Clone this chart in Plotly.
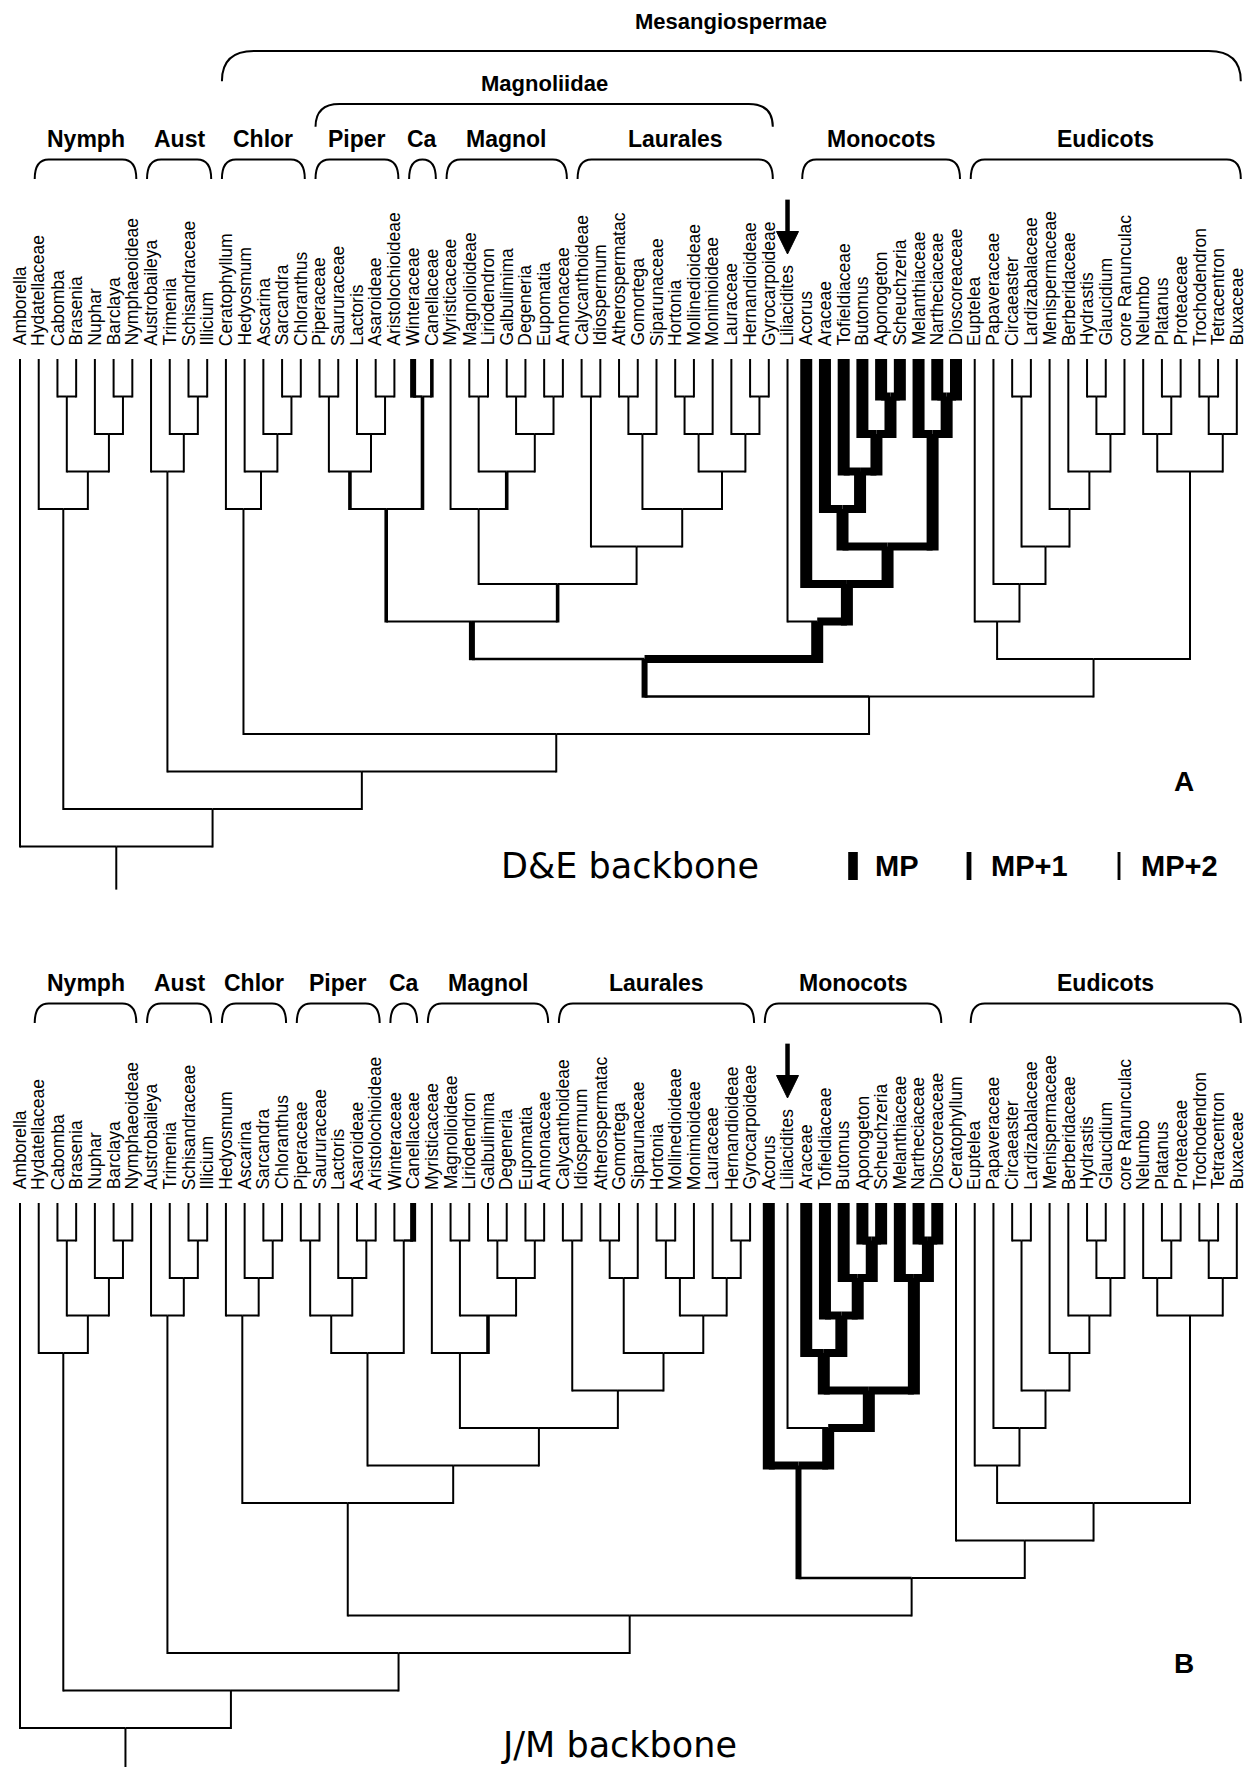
import plotly.graph_objects as go

# ---------------- data ----------------
LEAVES_A = ["Amborella", "Hydatellaceae", "Cabomba", "Brasenia", "Nuphar", "Barclaya", "Nymphaeoideae",
            "Austrobaileya", "Trimenia", "Schisandraceae", "Illicium", "Ceratophyllum", "Hedyosmum",
            "Ascarina", "Sarcandra", "Chloranthus", "Piperaceae", "Saururaceae", "Lactoris", "Asaroideae",
            "Aristolochioideae", "Winteraceae", "Canellaceae", "Myristicaceae", "Magnolioideae",
            "Liriodendron", "Galbulimima", "Degeneria", "Eupomatia", "Annonaceae", "Calycanthoideae",
            "Idiospermum", "Atherospermatac", "Gomortega", "Siparunaceae", "Hortonia", "Mollinedioideae",
            "Monimioideae", "Lauraceae", "Hernandioideae", "Gyrocarpoideae", "Liliacidites", "Acorus",
            "Araceae", "Tofieldiaceae", "Butomus", "Aponogeton", "Scheuchzeria", "Melanthiaceae",
            "Nartheciaceae", "Dioscoreaceae", "Euptelea", "Papaveraceae", "Circaeaster", "Lardizabalaceae",
            "Menispermaceae", "Berberidaceae", "Hydrastis", "Glaucidium", "core Ranunculac", "Nelumbo",
            "Platanus", "Proteaceae", "Trochodendron", "Tetracentron", "Buxaceae"]

LEAVES_B = ["Amborella", "Hydatellaceae", "Cabomba", "Brasenia", "Nuphar", "Barclaya", "Nymphaeoideae",
            "Austrobaileya", "Trimenia", "Schisandraceae", "Illicium", "Hedyosmum", "Ascarina", "Sarcandra",
            "Chloranthus", "Piperaceae", "Saururaceae", "Lactoris", "Asaroideae", "Aristolochioideae",
            "Winteraceae", "Canellaceae", "Myristicaceae", "Magnolioideae", "Liriodendron", "Galbulimima",
            "Degeneria", "Eupomatia", "Annonaceae", "Calycanthoideae", "Idiospermum", "Atherospermatac",
            "Gomortega", "Siparunaceae", "Hortonia", "Mollinedioideae", "Monimioideae", "Lauraceae",
            "Hernandioideae", "Gyrocarpoideae", "Acorus", "Liliacidites", "Araceae", "Tofieldiaceae",
            "Butomus", "Aponogeton", "Scheuchzeria", "Melanthiaceae", "Nartheciaceae", "Dioscoreaceae",
            "Ceratophyllum", "Euptelea", "Papaveraceae", "Circaeaster", "Lardizabalaceae", "Menispermaceae",
            "Berberidaceae", "Hydrastis", "Glaucidium", "core Ranunculac", "Nelumbo", "Platanus",
            "Proteaceae", "Trochodendron", "Tetracentron", "Buxaceae"]

# Trees: leaf index, ")N" = node level (steps below tips), mark after: * MP, + MP+1, ^ MP+2
NYMPH = "(1,((2,3)1,(4,(5,6)1)2)3)4"
AUST = "(7,(8,(9,10)1)2)3"
RANUNC = "(51,(52,((53,54)1,(55,(56,((57,58)1,59)2)3)4)5)6)7"
PROTBUX = "((60,(61,62)1)2,((63,64)1,65)2)3"
EUDICOTS = f"({RANUNC},{PROTBUX})8"

CHLOR_A = "(11,(12,(13,(14,15)1)2)3)4"
PIPER_A = "((16,17)1,(18,(19,20)1)2)3^"
CANELL_A = "(21+,22^)1^"
MAGNOL_A = "(23,((24,25)1,((26,27)1,(28,29)1)2)3^)4"
LAURAL_A = "((30,31)1,(((32,33)1,34)2,(((35,36)1,37)2,(38,(39,40)1)2)3)4)5"
MONOCORE_A = "((43*,(44*,(45*,(46*,47*)1*)2*)3*)4*,(48*,(49*,50*)1*)2*)5*"
MAGNOLIIDAE_A = f"(({PIPER_A},{CANELL_A})4^,({MAGNOL_A},{LAURAL_A})6^)7+"
MONO_A = f"(41,(42*,{MONOCORE_A})6*)7*"
TREE_A = f"(0,({NYMPH},({AUST},({CHLOR_A},(({MAGNOLIIDAE_A},{MONO_A})8+,{EUDICOTS})9)10)11)12)13"

CHLOR_B = "(11,(12,(13,14)1)2)3"
PIPER_B = "((15,16)1,(17,(18,19)1)2)3"
CANELL_B = "(20,21+)1"
MAGNOL_B = "(22,((23,24)1,((25,26)1,(27,28)1)2)3^)4"
LAURAL_B = "((29,30)1,(((31,32)1,33)2,(((34,35)1,36)2,(37,(38,39)1)2)3)4)5"
MONOCORE_B = "((42*,(43*,(44*,(45*,46*)1*)2*)3*)4*,(47*,(48*,49*)1*)2*)5*"
MAGNOLIIDAE_B = f"(({PIPER_B},{CANELL_B})4,({MAGNOL_B},{LAURAL_B})6)7"
MONO_B = f"(40*,(41,{MONOCORE_B})6*)7+"
TREE_B = f"(0,({NYMPH},({AUST},(({CHLOR_B},{MAGNOLIIDAE_B})8,({MONO_B},(50,{EUDICOTS})9)10)11)12)13)14"

GROUPS_A = [("Nymph", 1, 6), ("Aust", 7, 10), ("Chlor", 11, 15), ("Piper", 16, 20), ("Ca", 21, 22),
            ("Magnol", 23, 29), ("Laurales", 30, 40), ("Monocots", 42, 50), ("Eudicots", 51, 65)]
SUPERGROUPS_A = [("Magnoliidae", 16, 40), ("Mesangiospermae", 11, 65)]
GROUPS_B = [("Nymph", 1, 6), ("Aust", 7, 10), ("Chlor", 11, 14), ("Piper", 15, 19), ("Ca", 20, 21),
            ("Magnol", 22, 28), ("Laurales", 29, 39), ("Monocots", 40, 49), ("Eudicots", 51, 65)]
ARROW_TAXON = "Liliacidites"
LEGEND_LABELS = ["MP", "MP+1", "MP+2"]
LEGEND_MARKS = ["*", "+", "^"]
TITLE_A = "D&E backbone"
TITLE_B = "J/M backbone"

# ---------------- layout constants ----------------
FIG_W, FIG_H = 1249, 1767
X0_PX, PITCH = 20, 18.72
LEVEL_PX = 37.5
TIP_Y_A, TIP_Y_B = 359, 1203
VWIDTH = {"": 2.0, "^": 3.6, "+": 6.0, "*": 12.0}
HWIDTH = {"": 2.0, "^": 2.0, "+": 2.4, "*": 8.0}
ROOT_STEM = 1.15
LABEL_FONT = "Arial, Liberation Sans, sans-serif"


def parse(s):
    s = s.replace(" ", "")
    pos = 0

    def read_num():
        nonlocal pos
        st = pos
        while pos < len(s) and (s[pos].isdigit() or s[pos] == "."):
            pos += 1
        return float(s[st:pos])

    def read_mark():
        nonlocal pos
        if pos < len(s) and s[pos] in "*+^":
            pos += 1
            return s[pos - 1]
        return ""

    def node():
        nonlocal pos
        if s[pos] == "(":
            pos += 1
            kids = [node()]
            while pos < len(s) and s[pos] == ",":
                pos += 1
                kids.append(node())
            pos += 1  # ')'
            lvl = read_num()
            mark = read_mark()
            x = (kids[0]["x"] + kids[-1]["x"]) / 2
            return {"kids": kids, "level": lvl, "mark": mark, "x": x}
        idx = int(read_num())
        return {"leaf": idx, "level": 0.0, "mark": read_mark(), "x": float(idx)}

    return node()


def collect(nd, hsegs, vsegs):
    for c in nd.get("kids", []):
        m = c["mark"]
        hsegs[m].append([(nd["x"], nd["level"]), (c["x"], nd["level"])])
        ext = HWIDTH[m] / 2 / LEVEL_PX
        vsegs[m].append([(c["x"], nd["level"] + ext), (c["x"], c["level"])])
        collect(c, hsegs, vsegs)


fig = go.Figure()
shapes = []
annotations = []


def px_to_paper(px, py):
    return px / FIG_W, 1 - py / FIG_H


def add_lines(segs, width, yref):
    xs, ys = [], []
    for poly in segs:
        for (x, y) in poly:
            xs.append(x)
            ys.append(y)
        xs.append(None)
        ys.append(None)
    fig.add_trace(go.Scatter(x=xs, y=ys, mode="lines", yaxis=yref,
                             line=dict(color="black", width=width, simplify=False),
                             hoverinfo="skip", showlegend=False))


def add_panel(tree_str, leaves, yref, groups, supergroups):
    root = parse(tree_str)
    hsegs = {k: [] for k in VWIDTH}
    vsegs = {k: [] for k in VWIDTH}
    collect(root, hsegs, vsegs)
    vsegs[""].append([(root["x"], root["level"] + ROOT_STEM), (root["x"], root["level"])])
    for mark in ["", "^", "+", "*"]:
        add_lines(hsegs[mark], HWIDTH[mark], yref)
        add_lines(vsegs[mark], VWIDTH[mark], yref)
    yr = "y" if yref == "y" else "y2"
    for i, name in enumerate(leaves):
        annotations.append(dict(x=i, y=-0.3, xref="x", yref=yr, text=name, textangle=-90,
                                xanchor="center", yanchor="bottom", showarrow=False,
                                font=dict(family=LABEL_FONT, size=17.5, color="black")))
    pad = 4 / PITCH
    for (name, a, b) in groups:
        x0, x1 = a - pad, b + pad
        r = min(14 / PITCH, (x1 - x0) / 2)
        shapes.append(dict(type="path", xref="x", yref=yr, line=dict(color="black", width=2),
                           path=f"M {x0},-4.8 Q {x0},-5.32 {x0 + r},-5.32 L {x1 - r},-5.32 Q {x1},-5.32 {x1},-4.8"))
        annotations.append(dict(x=(a + b) / 2, y=-5.87, xref="x", yref=yr, text=f"<b>{name}</b>",
                                showarrow=False, xanchor="center", yanchor="middle",
                                font=dict(family=LABEL_FONT, size=23, color="black")))
    for k, (name, a, b) in enumerate(supergroups):
        x0, x1 = a - pad, b + pad
        ytop, ybot, ylab = [(-6.8, -6.19, -7.36), (-8.21, -7.41, -9.01)][k]
        r = [24, 32][k] / PITCH
        shapes.append(dict(type="path", xref="x", yref=yr, line=dict(color="black", width=2),
                           path=f"M {x0},{ybot} Q {x0},{ytop} {x0 + r},{ytop} L {x1 - r},{ytop} Q {x1},{ytop} {x1},{ybot}"))
        annotations.append(dict(x=(a + b) / 2, y=ylab, xref="x", yref=yr, text=f"<b>{name}</b>",
                                showarrow=False, xanchor="center", yanchor="middle",
                                font=dict(family=LABEL_FONT, size=22, color="black")))
    # arrow above the fossil taxon
    xa = leaves.index(ARROW_TAXON)
    tip = -2.8
    hw = 11 / PITCH
    shapes.append(dict(type="line", xref="x", yref=yr, x0=xa, x1=xa, y0=tip - 0.55, y1=tip - 1.45,
                       line=dict(color="black", width=4.5)))
    shapes.append(dict(type="path", xref="x", yref=yr, fillcolor="black", line=dict(color="black", width=1),
                       path=f"M {xa - hw},{tip - 0.6} L {xa + hw},{tip - 0.6} L {xa},{tip} Z"))


add_panel(TREE_A, LEAVES_A, "y", GROUPS_A, SUPERGROUPS_A)
add_panel(TREE_B, LEAVES_B, "y2", GROUPS_B, [])

# titles, panel letters, legend
for (txt, py) in [(TITLE_A, 866), (TITLE_B, 1745)]:
    px_, py_ = px_to_paper(499, py)
    annotations.append(dict(x=px_, y=py_, xref="paper", yref="paper", text=txt, showarrow=False,
                            xanchor="left", yanchor="middle",
                            font=dict(family="DejaVu Sans, sans-serif", size=35, color="black")))
for (txt, py) in [("A", 781), ("B", 1663)]:
    px_, py_ = px_to_paper(1184, py)
    annotations.append(dict(x=px_, y=py_, xref="paper", yref="paper", text=f"<b>{txt}</b>",
                            showarrow=False, xanchor="center", yanchor="middle",
                            font=dict(family=LABEL_FONT, size=28, color="black")))
legend_x = [853, 969, 1119]
for lab, mark, lx in zip(LEGEND_LABELS, LEGEND_MARKS, legend_x):
    x0p, y0p = px_to_paper(lx, 852)
    x1p, y1p = px_to_paper(lx, 880)
    shapes.append(dict(type="line", xref="paper", yref="paper", x0=x0p, x1=x1p, y0=y0p, y1=y1p,
                       line=dict(color="black", width=VWIDTH[mark] * 0.8)))
    tx, ty = px_to_paper(lx + 20, 866)
    annotations.append(dict(x=tx, y=ty, xref="paper", yref="paper", text=f"<b>{lab}</b>",
                            showarrow=False, xanchor="left", yanchor="middle",
                            font=dict(family=LABEL_FONT, size=29, color="black")))

fig.update_layout(
    width=FIG_W, height=FIG_H, margin=dict(l=0, r=0, t=0, b=0),
    paper_bgcolor="white", plot_bgcolor="white", showlegend=False,
    xaxis=dict(range=[-X0_PX / PITCH, (FIG_W - X0_PX) / PITCH], visible=False, fixedrange=True),
    yaxis=dict(range=[(FIG_H - TIP_Y_A) / LEVEL_PX, -TIP_Y_A / LEVEL_PX], visible=False, fixedrange=True),
    yaxis2=dict(range=[(FIG_H - TIP_Y_B) / LEVEL_PX, -TIP_Y_B / LEVEL_PX], visible=False,
                overlaying="y", fixedrange=True),
    shapes=shapes, annotations=annotations,
)
fig.write_html("out.html", config={"displayModeBar": False},
               post_script="document.body.style.margin='0';document.body.style.overflow='hidden';")
